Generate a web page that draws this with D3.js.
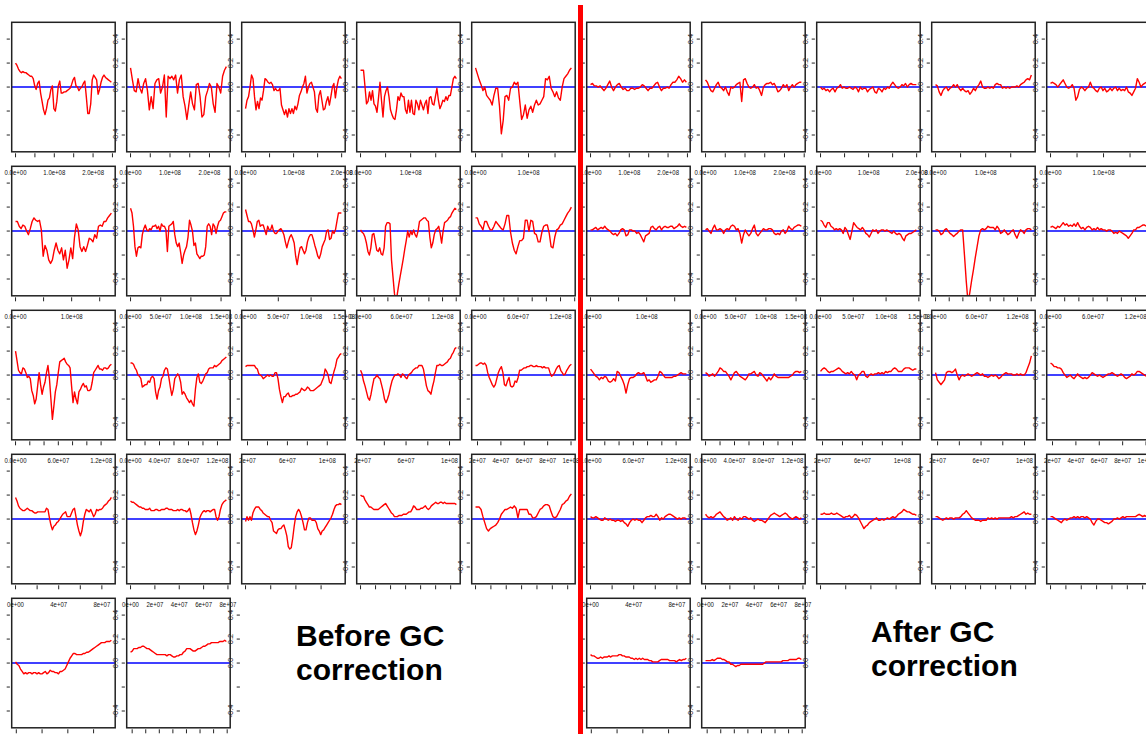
<!DOCTYPE html>
<html>
<head>
<meta charset="utf-8">
<script src="https://cdn.jsdelivr.net/npm/d3@7"></script>
<style>
  html, body { margin: 0; padding: 0; background: #fff; }
  svg { display: block; }
</style>
</head>
<body>
<svg id="chart" width="1146" height="734"></svg>
<script>
// Chromosomes shown in reading order, five panels per row
const chromNames = ["1","2","3","4","5","6","7","8","9","10","11","12","13","14","15","16","17","18","19","20","21","22"];
// mapped extent of each chromosome, in Mb
const chromStartMb = [0,0,0,0,0,0,0,0,0,0,0,0,18.0,18.1,18.3,0,0,0,0,0,9.7,14.4];
const chromEndMb   = [247.2,242.8,199.4,191.2,180.8,170.8,158.8,146.2,140.2,135.3,134.4,132.3,114.1,106.3,100.3,88.8,78.7,76.1,63.8,62.4,46.9,49.7];
// spacing of the position ticks, in Mb
const tickStepMb   = [50,50,50,50,50,50,50,50,20,20,20,20,20,20,20,20,20,20,10,10,10,5];
// labelled position ticks (Mb) and their text
const labelMb = [
  [0,100,200],[0,100,200],[0,100,200],[0,100],[0,100],
  [0,100],[0,50,100,150],[0,50,100,150],[0,60,120],[0,60,120],
  [0,60,120],[0,40,80,120],[20,60,100],[20,60,100],[20,40,60,80,100],
  [0,40,80],[0,20,40,60,80],[],[],[],[],[]
];
const labelText = [
  ["0.0e+00","1.0e+08","2.0e+08"],["0.0e+00","1.0e+08","2.0e+08"],["0.0e+00","1.0e+08","2.0e+08"],["0.0e+00","1.0e+08"],["0.0e+00","1.0e+08"],
  ["0.0e+00","1.0e+08"],["0.0e+00","5.0e+07","1.0e+08","1.5e+08"],["0.0e+00","5.0e+07","1.0e+08","1.5e+08"],["0.0e+00","6.0e+07","1.2e+08"],["0.0e+00","6.0e+07","1.2e+08"],
  ["0.0e+00","6.0e+07","1.2e+08"],["0.0e+00","4.0e+07","8.0e+07","1.2e+08"],["2e+07","6e+07","1e+08"],["2e+07","6e+07","1e+08"],["2e+07","4e+07","6e+07","8e+07","1e+08"],
  ["0e+00","4e+07","8e+07"],["0e+00","2e+07","4e+07","6e+07","8e+07"],[],[],[],[],[]
];
// log2 ratio axis
const ratioTicks = [-0.4,-0.2,0,0.2,0.4];
const ratioLabelValues = [0.4,0.2,0,-0.4];
const ratioLabelText = ["0.4","0.2","0.0","-0.4"];

// Smoothed log2 ratios along each chromosome (evenly spaced positions), before GC correction
const before1 = [.20,.18,.15,.13,.12,.13,.12,.12,.11,.10,.09,.09,.07,.01,-.02,.03,.05,-.05,-.12,-.19,-.23,-.18,-.11,-.09,-.02,.01,-.18,-.20,-.12,.01,.05,-.05,-.05,-.04,-.04,-.03,-.02,-.01,.02,.06,.08,.01,.00,-.03,-.01,.00,.03,.05,-.08,-.22,-.22,-.14,.06,.10,.08,.06,-.06,-.02,.04,.08,.10,.08,.07,.06,.05,.04];
const before2 = [.16,.06,-.03,-.04,.07,-.01,-.05,.03,.07,-.03,-.19,-.08,-.18,.03,.06,.07,-.05,.00,.10,-.25,.09,.07,.09,.06,.10,-.05,.06,.10,-.08,-.16,-.27,-.15,-.04,-.14,-.19,.02,.03,-.08,-.25,-.23,-.08,-.03,.03,.00,-.14,-.21,.03,.00,-.05,.09,.14,.17];
const before3 = [-.18,-.11,-.08,.00,.10,.07,-.08,-.19,-.12,-.18,-.09,-.11,-.03,.07,.06,.04,.03,.04,.02,-.03,-.01,-.03,-.03,-.01,-.15,-.19,-.23,-.19,-.25,-.18,-.22,-.18,-.22,-.16,-.19,-.14,-.07,-.04,.00,.03,.09,-.05,.00,.03,.04,.00,-.04,-.18,-.21,-.07,-.03,-.11,-.19,-.18,-.12,-.08,-.15,-.08,.00,.03,-.09,.00,.06,.09,.07];
const before4 = [.14,.14,.14,.00,-.14,-.12,-.04,-.11,-.03,-.14,-.16,-.21,-.09,.04,-.11,-.25,-.08,-.03,.00,-.08,-.19,-.23,-.26,-.27,-.19,-.08,-.11,-.05,-.08,-.08,-.19,-.22,-.11,-.21,-.11,-.22,-.23,-.11,-.14,-.19,-.11,-.15,-.19,-.14,-.11,-.22,-.09,-.08,-.14,-.15,-.08,-.01,-.11,-.18,-.15,-.11,-.12,-.08,-.11,-.07,-.07,.00,.07,.09,.07];
const before5 = [.16,.11,.06,.02,-.03,.00,-.07,-.09,-.11,-.15,-.07,-.01,-.01,-.16,-.39,-.28,-.08,-.07,-.11,-.01,.00,.04,.02,.04,-.12,-.27,-.23,-.15,-.26,-.19,-.16,-.21,-.15,-.11,-.15,-.14,-.11,-.08,.07,.06,.09,-.01,-.04,-.08,-.04,-.09,-.11,.00,.07,.09,.11,.14,.16];
const before6 = [.08,.08,.04,.02,.05,.04,.00,-.03,.02,.08,.11,.09,.08,.09,.01,-.21,-.12,-.16,-.24,-.27,-.24,-.16,-.10,-.16,-.19,-.14,-.24,-.16,-.31,-.24,-.14,-.23,-.05,.06,.01,-.13,-.17,-.13,-.17,-.12,-.06,-.07,-.09,-.03,-.06,.04,.05,.04,.08,.08,.11,.13,.15];
const before7 = [.19,.15,.04,-.13,-.21,-.14,-.13,-.14,-.03,.02,.05,.01,.00,.02,.01,.04,.04,.05,.02,.04,.00,.06,.04,.04,.01,-.17,.04,.05,.06,.08,-.03,-.10,-.13,-.10,-.18,-.27,-.20,-.16,-.13,-.05,.09,.05,.00,-.12,-.10,-.19,-.21,-.23,-.21,-.21,-.20,-.13,.04,.06,.04,-.03,.06,.04,-.02,.04,.08,.09,.12,.15,.16,.16];
const before8 = [.18,.13,.08,.08,.06,.01,-.05,.01,.08,.09,.04,.05,.05,.01,-.03,.04,.01,.01,.05,.00,-.02,-.02,.00,.01,.02,.00,-.03,-.09,-.14,-.09,-.05,-.03,-.06,-.10,-.21,-.28,-.20,-.14,-.13,-.16,-.19,-.16,-.09,-.05,-.03,-.03,-.07,-.12,-.16,-.21,-.23,-.19,-.13,-.10,-.07,.00,.01,-.07,-.06,.00,-.02,.01,.08,.15,.15,.15];
const before9 = [.01,-.01,-.02,-.05,-.10,-.17,-.20,-.14,-.03,-.02,-.09,-.16,-.17,-.14,-.19,-.20,-.14,.04,.07,.07,.06,-.24,-.38,-.52,-.60,-.52,-.44,-.37,-.30,-.23,-.15,-.08,.00,-.05,.00,-.03,.01,-.03,-.05,.00,.08,.09,.10,.11,.11,.09,.08,-.05,-.14,-.10,-.03,.01,.02,.04,-.02,-.10,.00,.07,.08,.09,.11,.12,.15,.17,.19,.18];
const before10 = [.11,.11,.06,.04,.01,.08,.08,.04,.01,.01,.04,.08,.06,.04,.02,.01,.06,.13,.13,-.01,-.10,-.16,-.19,-.13,-.08,-.08,-.06,.09,.09,.00,.09,.08,-.02,-.03,-.09,-.09,-.01,.04,.05,.05,-.02,-.13,-.14,-.05,.01,.02,.05,.06,.09,.12,.15,.17,.20];
const before11 = [.20,.12,.04,.02,.01,.06,.05,.02,-.02,-.01,-.03,-.13,-.17,-.24,-.20,-.09,.02,-.08,-.16,-.10,-.06,.02,.08,-.03,-.20,-.37,-.26,-.14,-.08,.02,.11,.12,.13,.14,.11,.09,.08,.06,-.09,-.23,-.14,-.20,-.24,-.14,-.12,-.09,-.07,-.10,-.09,-.13,-.13,-.12,-.06,.02,.04,.06,.08,.05,.05,.04,.06,.06,.05,.06,.08,.09];
const before12 = [.10,.10,.09,.06,.04,.00,-.01,-.03,-.10,-.09,-.08,-.08,-.05,-.06,-.02,-.01,-.03,-.14,-.20,-.13,-.10,-.03,-.01,.04,.06,.05,-.02,-.10,-.17,-.12,-.03,-.01,.01,-.01,-.06,-.16,-.14,-.16,-.19,-.21,-.23,-.21,-.24,-.26,-.12,-.02,.01,-.06,-.07,-.05,-.02,.01,.02,.05,.06,.06,.06,.08,.07,.08,.09,.10,.12,.13,.14,.15];
const before13 = [.07,.08,.08,.08,.08,.08,.08,.06,.05,.01,.00,-.01,-.03,-.02,-.01,.00,-.01,.00,-.01,-.01,.02,.02,-.03,-.12,-.18,-.23,-.18,-.18,-.16,-.15,-.18,-.18,-.17,-.17,-.16,-.16,-.15,-.14,-.11,-.12,-.13,-.12,-.10,-.11,-.13,-.13,-.13,-.12,-.11,-.10,-.09,-.08,-.05,-.02,.05,.03,.00,-.06,-.07,-.02,.03,.07,.13,.15,.17,.18];
const before14 = [.04,.01,-.05,-.09,-.14,-.19,-.21,-.16,-.09,-.03,-.02,.00,-.02,-.03,-.08,-.13,-.20,-.23,-.20,-.16,-.10,-.05,-.02,.00,.00,.01,.00,-.02,.01,.00,-.02,-.03,.00,.01,.02,.04,.05,.06,.06,.08,.08,.08,.05,-.02,-.09,-.13,-.14,-.16,-.10,-.05,.02,.08,.08,.09,.08,.08,.09,.10,.11,.13,.14,.17,.19,.22,.23];
const before15 = [.08,.08,.09,.10,.10,.09,.10,.08,.02,-.02,-.05,-.08,-.10,-.08,-.03,.02,.05,.07,.02,-.08,-.09,-.05,-.02,-.09,-.10,-.09,-.05,-.06,-.02,.04,.04,.05,.06,.06,.07,.07,.08,.08,.07,.07,.08,.07,.07,.07,.06,.07,.06,.06,.06,.02,-.01,.00,.02,.05,.07,.08,.04,.02,.00,.01,.04,.06,.08,.09];
const before16 = [.18,.15,.11,.09,.08,.07,.07,.08,.09,.08,.07,.07,.06,.05,.05,.06,.06,.06,.06,.06,.06,.09,.08,.01,-.05,-.09,-.06,-.05,-.03,-.02,.00,.02,.04,.05,.06,.02,.02,.02,.05,.08,.09,.02,-.05,-.10,-.14,-.10,-.02,.04,.08,.07,.06,.08,.05,.02,.04,.08,.07,.08,.08,.09,.11,.12,.13,.15,.16,.18];
const before17 = [.15,.14,.14,.13,.12,.11,.10,.10,.09,.09,.08,.08,.08,.09,.07,.07,.07,.08,.08,.07,.07,.08,.08,.08,.09,.09,.08,.08,.08,.07,.07,.07,.08,.07,.08,.08,.07,.07,.06,.07,.09,.04,-.03,-.09,-.13,-.10,-.05,.01,.04,.06,.07,.06,.07,.07,.06,.07,.08,.08,.02,-.01,.02,.08,.12,.14,.15,.16];
const before18 = [-.02,.02,-.01,.02,-.01,.05,.08,.10,.10,.10,.08,.07,.05,.04,.03,.02,.02,-.01,-.03,-.10,-.11,-.12,-.09,-.08,-.08,-.06,-.05,-.09,-.14,-.23,-.25,-.24,-.16,-.06,.02,.06,.08,.06,.02,-.03,-.09,-.09,-.03,.01,.01,-.01,-.01,-.01,-.03,-.08,-.10,-.13,-.10,-.09,-.07,-.05,-.03,-.01,.01,.04,.08,.11,.12,.12,.13,.12];
const before19 = [.20,.19,.19,.16,.14,.12,.10,.10,.09,.08,.08,.08,.08,.09,.10,.11,.12,.13,.11,.09,.07,.05,.04,.02,.02,.02,.03,.03,.03,.04,.04,.04,.05,.06,.06,.08,.11,.10,.08,.08,.08,.09,.09,.10,.11,.09,.08,.09,.11,.12,.13,.14,.13,.13,.14,.14,.13,.14,.13,.13,.13,.13,.13,.13,.13,.12];
const before20 = [.10,.10,.10,.08,.02,-.03,-.08,-.10,-.08,-.07,-.06,-.05,-.03,.00,.04,.06,.08,.08,.09,.10,.09,.11,.09,.01,.08,.08,.08,.08,.08,.04,.04,.01,.01,.02,.05,.08,.09,.11,.12,.12,.11,.06,.02,.01,.02,.05,.08,.12,.13,.15,.16,.19,.21];
const before21 = [.01,-.01,-.02,-.05,-.07,-.09,-.08,-.09,-.08,-.08,-.09,-.08,-.08,-.09,-.08,-.09,-.09,-.08,-.07,-.09,-.08,-.06,-.07,-.07,-.08,-.08,-.09,-.07,-.07,-.06,-.05,-.02,.01,.04,.06,.08,.08,.07,.07,.07,.07,.08,.08,.09,.09,.10,.11,.12,.13,.14,.15,.16,.17,.17,.17,.18,.18,.18,.19];
const before22 = [.09,.10,.12,.12,.12,.13,.13,.14,.14,.13,.12,.12,.11,.10,.09,.08,.07,.07,.07,.07,.07,.07,.06,.07,.07,.06,.05,.05,.06,.06,.07,.07,.09,.10,.12,.12,.12,.11,.10,.10,.11,.12,.12,.13,.14,.14,.15,.16,.16,.17,.17,.17,.17,.17,.18,.18,.18,.19,.18];

// Same chromosomes after GC correction
const after1 = [.02,.03,.01,.01,.00,.01,-.01,-.03,-.01,.02,.05,.00,-.03,.00,.02,.03,.00,-.02,-.01,-.03,-.03,-.01,-.01,-.02,-.01,-.01,.00,.02,.01,-.01,-.03,-.01,-.01,.01,.03,.04,.00,-.03,-.01,-.01,.00,-.01,.02,.04,.04,.06,.09,.07,.04,.06,.04];
const after2 = [.06,.04,.00,-.03,-.04,-.01,.02,.04,.00,-.01,-.03,.00,-.04,-.07,.00,-.01,.00,.02,.03,.04,-.12,.06,.07,.03,.00,-.01,.00,.02,-.01,.00,-.03,-.07,.00,.02,.03,.03,.04,.02,.03,.00,-.04,-.03,-.01,.02,.00,.02,-.03,.00,.02,.00,.02,.03,.04,.04];
const after3 = [.00,-.02,-.01,-.03,-.02,-.04,-.02,-.01,-.04,-.01,.00,.02,-.01,.00,-.01,-.01,.00,-.01,-.02,.00,-.01,-.04,.00,-.02,-.01,-.01,-.04,-.02,-.01,.00,-.04,-.05,-.01,-.02,-.04,-.01,-.02,.00,-.01,.02,.04,.02,.00,-.01,.00,.02,.01,.03,.00,.02,.03,.02,.02,.02];
const after4 = [.02,.01,-.04,-.07,-.03,-.01,.00,-.03,-.01,.00,.02,.00,.02,-.01,-.03,-.01,-.03,-.04,-.03,-.06,-.04,-.01,-.03,.00,.02,.05,.00,-.01,-.01,.00,-.01,.00,-.01,.02,.03,.02,.02,-.01,.00,-.01,.00,-.01,.00,.00,.00,.01,.00,.02,.03,.04,.06,.07,.06,.10];
const after5 = [.03,.04,.03,.02,.00,.02,.04,.06,.03,.00,-.01,.00,.02,-.01,-.11,-.08,-.02,.00,-.01,-.03,-.01,.00,.04,.00,-.01,-.03,-.04,-.01,.00,-.03,-.01,-.04,-.03,-.01,-.03,-.01,.00,-.03,-.01,-.03,-.02,-.03,.00,-.04,-.05,-.07,-.04,-.01,.07,.04,.00,.02,.03,.04];
const after6 = [.01,.01,.02,.03,.01,.02,.03,.02,.04,.02,.01,.00,-.02,-.03,-.02,-.04,-.02,.01,.02,.01,-.04,-.03,.01,.01,.00,.00,-.02,-.01,-.03,-.06,-.09,-.04,-.03,-.02,.03,.04,.02,.01,.03,.04,.01,.03,.04,.03,.03,.04,.04,.02,.03,.04,.06,.04,.03,.04,.03];
const after7 = [.01,.02,.00,-.02,.02,.05,.01,.01,.02,.01,-.02,.01,.02,.01,.04,.05,.04,.01,.02,-.02,-.10,-.03,.01,-.02,-.04,-.02,.02,.05,-.02,-.04,-.02,.00,.02,.01,.01,.02,.02,.01,-.02,-.03,-.02,-.03,.00,.01,-.02,.00,.04,.02,.01,.03,.04,.05,.05,.04];
const after8 = [.09,.08,.05,.03,.07,.07,.04,.03,.01,.02,.01,.02,.01,-.02,.03,.01,-.03,-.07,.00,.07,.05,.03,.02,.01,.03,.01,-.02,-.03,-.05,-.02,.01,.00,.01,-.02,.00,.01,.01,.00,.01,.00,-.01,-.02,.00,-.02,-.03,-.02,-.03,-.06,-.08,-.04,-.03,-.02,-.02,-.01,.00,.01];
const after9 = [.01,.01,.00,-.03,-.02,.01,.02,.00,-.02,-.03,-.045,-.03,-.02,.00,.01,.01,-.20,-.42,-.60,-.51,-.41,-.32,-.22,-.13,-.04,.01,.02,.01,.02,.04,.03,.03,.03,.01,.04,.02,-.02,-.01,.01,-.01,-.03,-.02,.00,.01,-.03,-.06,-.02,.01,.00,-.02,.01,.02,.02,.01];
const after10 = [.03,.04,.03,.02,.04,.03,.05,.07,.05,.06,.04,.05,.04,.06,.04,.07,.04,.02,.03,.01,.03,.04,.03,.01,.02,.01,.03,.01,.02,.01,.01,.00,.01,.01,.00,-.02,-.01,-.02,.00,-.01,-.02,-.03,-.04,-.06,-.04,-.02,.01,.01,.03,.03,.04,.05,.05,.04];
const after11 = [.05,.03,.01,-.01,-.02,-.04,-.02,-.03,-.01,-.02,-.05,-.06,-.05,-.03,-.05,.03,.02,-.01,-.04,-.08,-.15,-.08,-.03,-.02,-.02,-.01,.01,.02,.01,.01,.02,-.01,-.05,-.04,-.06,-.05,-.04,-.04,-.01,.03,.02,.00,-.02,-.02,-.02,-.02,-.02,-.01,-.01,.00,.01,.02,.01,.01,.01];
const after12 = [.02,.01,-.01,.00,.01,-.01,.01,.03,.06,.05,.03,.03,.01,-.01,-.04,-.01,.02,.03,.01,-.01,-.02,-.03,-.04,-.02,.01,.01,.02,.03,.00,-.01,.02,.01,-.01,-.03,-.05,-.02,-.04,-.02,.01,-.01,-.02,-.02,-.02,-.02,-.02,-.02,-.02,-.01,.00,.02,.03,.03,.02,.03];
const after13 = [.03,.05,.06,.05,.03,.02,.03,.03,.04,.05,.06,.05,.03,.02,.01,.02,.01,.03,.01,.00,-.04,.00,.01,.03,.03,-.01,-.02,.00,.01,.00,.01,.01,.02,.01,.02,.01,.03,.02,.03,.03,.05,.06,.05,.03,.03,.03,.05,.06,.06,.06,.05,.04,.05,.05];
const after14 = [.02,-.04,-.06,-.08,-.06,-.04,.02,.03,.03,.02,.03,.05,.00,-.04,-.01,.00,-.01,.00,.01,.00,-.01,.00,.01,.02,.01,.00,.01,-.01,-.01,-.02,-.01,.00,-.01,.00,-.01,-.03,-.02,.00,.01,.02,.01,.01,.01,.00,.00,.01,.00,.01,.00,.00,.02,.06,.10,.16];
const after15 = [.10,.09,.07,.07,.06,.06,.05,.02,.00,-.02,-.01,.00,-.02,-.03,-.01,.01,-.01,-.02,-.03,-.02,-.03,-.02,.00,.02,.01,.00,-.01,.00,-.01,-.02,-.01,.00,.01,.01,.02,.01,.00,-.01,.00,.01,.00,-.02,-.03,-.02,-.01,.01,.00,.01,.03,.03,.02,.01,.00,-.01];
const after16 = [.02,.01,.01,.02,.01,.00,-.01,-.01,.01,.00,-.01,.00,-.01,-.01,-.02,-.01,-.01,-.02,-.01,-.03,-.04,-.06,-.03,-.01,.00,-.01,.00,-.01,-.01,-.03,-.01,.01,.02,.02,.03,.02,.02,.04,.02,-.01,.01,.00,.02,.03,.04,.04,.03,.02,.01,.00,.01,.00,.01,.01,.00];
const after17 = [.04,.02,.01,.02,.01,.02,.04,.05,.06,.04,.02,.01,-.01,.00,.01,-.01,.02,.00,-.01,.01,.00,.02,.02,.01,.00,.01,-.01,-.02,-.01,.00,-.01,-.01,-.02,-.03,-.01,.01,.03,.04,.05,.04,.03,.02,.03,.04,.05,.04,.02,.01,.00,.01,.02,.01,.00,.01];
const after18 = [.04,.04,.05,.04,.04,.04,.05,.04,.04,.05,.04,.03,.02,.01,.02,.02,.03,.01,.02,.04,.03,.01,-.02,-.05,-.08,-.06,-.05,-.03,-.02,-.01,.00,.01,-.01,-.01,.00,-.01,.00,.01,.00,.01,.02,.01,.02,.04,.05,.06,.08,.07,.06,.06,.05,.04,.04,.03];
const after19 = [.02,.02,.01,.00,-.01,.00,.01,.00,.01,.01,.00,.01,.01,.01,.02,.04,.05,.07,.05,.03,.01,.00,-.01,-.01,-.01,-.02,-.01,-.01,-.01,.01,.00,.01,.00,.01,.00,.01,.01,.01,.01,.01,.01,.01,.02,.01,.02,.02,.03,.04,.05,.06,.04,.05,.04,.04];
const after20 = [.02,.02,.01,.00,-.01,-.02,-.03,-.01,.00,-.01,.00,.01,.01,.02,.01,.02,.01,.02,.02,.01,.02,.01,.00,-.03,-.05,-.02,.00,.00,-.01,-.02,-.03,-.03,-.04,-.03,-.02,.00,.00,.01,.00,.01,.02,.01,.02,.02,.02,.02,.02,.02,.03,.04,.03,.02,.03,.02];
const after21 = [.07,.06,.06,.05,.04,.04,.05,.04,.05,.05,.05,.06,.05,.06,.06,.06,.06,.07,.07,.06,.06,.05,.05,.05,.04,.04,.03,.04,.03,.04,.03,.04,.03,.03,.03,.02,.02,.01,.01,.01,.01,.02,.03,.03,.03,.03,.03,.02,.02,.02,.02,.01,.02,.03,.02,.03,.03,.04];
const after22 = [.02,.02,.02,.02,.03,.02,.03,.04,.04,.04,.03,.03,.02,.01,.01,-.01,-.01,-.02,-.03,-.02,-.02,-.01,-.01,-.01,-.01,-.01,-.01,-.01,-.01,-.01,-.01,-.01,-.01,-.01,-.01,.00,.01,.01,.01,.01,.01,.01,.01,.01,.01,.01,.02,.02,.02,.02,.03,.03,.03,.03,.03,.04,.04,.03];

const beforeSeries = [before1,before2,before3,before4,before5,before6,before7,before8,before9,before10,before11,before12,before13,before14,before15,before16,before17,before18,before19,before20,before21,before22];
const afterSeries  = [after1,after2,after3,after4,after5,after6,after7,after8,after9,after10,after11,after12,after13,after14,after15,after16,after17,after18,after19,after20,after21,after22];

// ---- layout ----
const panelW = 103.5, panelH = 129.5;
const colStep = 115, rowStep = 144;
const gridLeft = 11.7, gridTop = 22.3, halfShift = 575;
const panelsInRow = [5,5,5,5,2];
const padX = panelW * 0.04 / 1.08;   // R's default 4% extension of the data range

const svg = d3.select("#chart");
const defs = svg.append("defs");
const panelLayer = svg.append("g");
const labelLayer = svg.append("g");

const ink = "#222";
const labelFont = "'Liberation Sans', Arial, sans-serif";

function panelExists(r, c) { return r < panelsInRow.length && c < panelsInRow[r]; }

function drawLeftTicks(g, left, y) {
  g.selectAll(null).data(ratioTicks).join("line")
    .attr("x1", left - 5).attr("x2", left - 1.8)
    .attr("y1", d => y(d)).attr("y2", d => y(d))
    .attr("stroke", ink).attr("stroke-width", 1);
}

const halves = [
  { key: "before", shift: 0, series: beforeSeries },
  { key: "after", shift: halfShift, series: afterSeries }
];

halves.forEach((half, h) => {
  panelsInRow.forEach((count, r) => {
    for (let c = 0; c < count; c++) {
      const k = r * 5 + c;
      const left = gridLeft + half.shift + c * colStep;
      const top = gridTop + r * rowStep;
      const g = panelLayer.append("g").attr("class", "panel chr" + chromNames[k]);

      const x = d3.scaleLinear()
        .domain([chromStartMb[k], chromEndMb[k]])
        .range([left + padX, left + panelW - padX]);
      const y = d3.scaleLinear().domain([-0.54, 0.54]).range([top + panelH, top]);

      const clipId = "clip-" + half.key + "-" + k;
      defs.append("clipPath").attr("id", clipId)
        .append("rect").attr("x", left).attr("y", top).attr("width", panelW).attr("height", panelH);

      // reference line at zero
      g.append("line")
        .attr("x1", left).attr("x2", left + panelW)
        .attr("y1", y(0)).attr("y2", y(0))
        .attr("stroke", "#0000ff").attr("stroke-width", 1.6);

      // smoothed ratio trace
      const vals = half.series[k];
      const span = chromEndMb[k] - chromStartMb[k];
      const line = d3.line()
        .x((d, i) => x(chromStartMb[k] + span * i / (vals.length - 1)))
        .y(d => y(d));
      g.append("path")
        .datum(vals)
        .attr("clip-path", "url(#" + clipId + ")")
        .attr("d", line)
        .attr("fill", "none")
        .attr("stroke", "#ff0000")
        .attr("stroke-width", 1.4)
        .attr("stroke-linejoin", "round");

      // frame
      g.append("rect")
        .attr("x", left).attr("y", top).attr("width", panelW).attr("height", panelH)
        .attr("fill", "none").attr("stroke", ink).attr("stroke-width", 1.5);

      drawLeftTicks(g, left, y);

      // position ticks along the bottom
      const x0 = x.invert(left), x1 = x.invert(left + panelW);
      const step = tickStepMb[k];
      const ticks = d3.range(Math.ceil(x0 / step) * step, x1 + 1e-9, step);
      g.selectAll(null).data(ticks).join("line")
        .attr("x1", d => x(d)).attr("x2", d => x(d))
        .attr("y1", top + panelH + 1.5).attr("y2", top + panelH + 5.5)
        .attr("stroke", ink).attr("stroke-width", 1);

      // position labels, sitting on the top edge of the panel below
      if (panelExists(r + 1, c)) {
        const ly = gridTop + (r + 1) * rowStep + 8.8;
        labelLayer.selectAll(null).data(labelMb[k].map((v, i) => ({ v, t: labelText[k][i] }))).join("text")
          .attr("transform", d => `translate(${x(d.v)},${ly}) scale(0.86,1)`)
          .attr("text-anchor", "middle")
          .attr("font-family", labelFont).attr("font-size", 7)
          .attr("fill", "#111")
          .text(d => d.t);
      }

      // ratio labels of the neighbouring axis, rotated, on the right edge
      const hasNeighbour = (r < 4 && c < 4) || (r === 4 && c < 2);
      if (hasNeighbour) {
        labelLayer.selectAll(null).data(ratioLabelValues.map((v, i) => ({ v, t: ratioLabelText[i] }))).join("text")
          .attr("transform", d => `translate(${left + panelW + 3},${y(d.v)}) rotate(-90)`)
          .attr("text-anchor", "middle")
          .attr("font-family", labelFont).attr("font-size", 7.5)
          .attr("fill", "#222")
          .text(d => d.t);
      }
    }
  });
});

// empty slot next to chromosome 22 (before correction) keeps its axis ticks
{
  const left = gridLeft + 2 * colStep, top = gridTop + 4 * rowStep;
  const y = d3.scaleLinear().domain([-0.54, 0.54]).range([top + panelH, top]);
  drawLeftTicks(panelLayer.append("g"), left, y);
}

// divider between the two sets of panels
svg.append("rect")
  .attr("x", 578).attr("y", 5).attr("width", 5).attr("height", 729)
  .attr("fill", "#ff0000");

// captions
const captions = [
  { lines: ["Before GC", "correction"], x: 296, y: 646 },
  { lines: ["After GC", "correction"], x: 871, y: 642 }
];
captions.forEach(cap => {
  const t = svg.append("text")
    .attr("font-family", labelFont).attr("font-weight", "bold")
    .attr("font-size", 30).attr("fill", "#000");
  cap.lines.forEach((s, i) => {
    t.append("tspan").attr("x", cap.x).attr("y", cap.y + i * 34).text(s);
  });
});
</script>
</body>
</html>
